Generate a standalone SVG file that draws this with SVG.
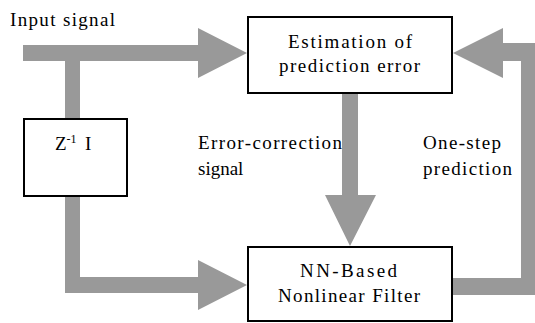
<svg xmlns="http://www.w3.org/2000/svg" width="535" height="323" viewBox="0 0 535 323">
<style>
.box{fill:#fff;stroke:#000;stroke-width:2}
.arr{fill:#999999;stroke:none}
text{font-family:'Liberation Serif','DejaVu Serif','Times New Roman',Times,serif;font-size:19px;fill:#000}
</style>
<rect width="535" height="323" fill="#fff"/>
<g id="connectors">
<polygon class="arr" points="23,45 198,45 198,28 247,53 198,78 198,61 23,61"/>
<rect class="arr" x="65" y="61" width="15" height="58"/>
<polygon class="arr" points="65,196 80,196 80,277 198,277 198,260 247,285 198,310 198,293 65,293"/>
<polygon class="arr" points="342,93 358,93 358,195 376,195 350,246 325,195 342,195"/>
<polygon class="arr" points="452,278 521,278 521,61 503,61 503,78 453,53 503,28 503,43 540,43 540,295 452,295"/>
</g>
<g id="label-input"><text x="10" y="26" textLength="105" lengthAdjust="spacing">Input signal</text></g>
<g id="node-estimation">
<rect class="box" x="248" y="17" width="204" height="76"/>
<text x="288" y="48" textLength="124" lengthAdjust="spacing">Estimation of</text>
<text x="279" y="72" textLength="141" lengthAdjust="spacing">prediction error</text>
</g>
<g id="node-delay">
<rect class="box" x="24" y="119" width="103" height="77"/>
<text x="55" y="150">Z<tspan font-size="12" dy="-7">-1</tspan></text>
<text x="85" y="150">I</text>
</g>
<g id="node-filter">
<rect class="box" x="248" y="247" width="204" height="74"/>
<text x="300" y="277" textLength="97" lengthAdjust="spacing">NN-Based</text>
<text x="278" y="302" textLength="142" lengthAdjust="spacing">Nonlinear Filter</text>
</g>
<g id="label-error">
<text x="198" y="149" textLength="144" lengthAdjust="spacing">Error-correction</text>
<text x="198" y="175">signal</text>
</g>
<g id="label-onestep">
<text x="423" y="149" textLength="78" lengthAdjust="spacing">One-step</text>
<text x="423" y="175" textLength="89" lengthAdjust="spacing">prediction</text>
</g>
</svg>
